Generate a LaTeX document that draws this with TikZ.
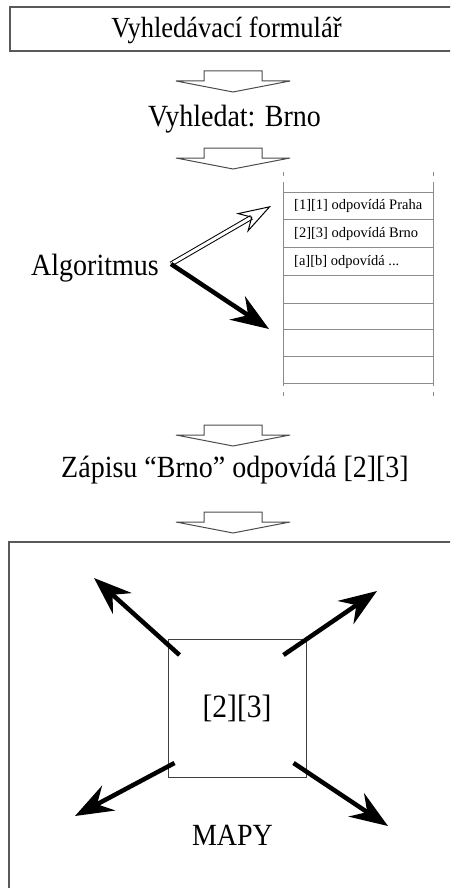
\documentclass[tikz,border=0pt]{standalone}
\usepackage{fontspec}
\setmainfont{Liberation Serif}
\usetikzlibrary{arrows.meta,calc,positioning}
\tikzset{
  boxline/.style={draw=black!65, line width=1.2pt},
  gridline/.style={draw=black!45, line width=1pt},
  blockline/.style={draw=black!70, line width=1pt, fill=white},
  bigtext/.style={font=\fontsize{28}{30}\selectfont, inner sep=0pt, anchor=base},
  smalltext/.style={font=\fontsize{14.5}{16}\selectfont, inner sep=0pt, anchor=base west},
  maparrow/.style={line width=4.5pt, -{Stealth[length=38pt, width=28pt, inset=13pt]}}
}
\newcommand{\tall}[1]{\scalebox{1}[1.1]{#1}}
\newcommand{\flowarrow}[1]{%
  \draw[blockline] ($(#1)+(-29,0)$) -- ++(58,0) -- ++(0,10) -- ++(28,0)
    -- ($(#1)+(0,21)$) -- ($(#1)+(-57,10)$) -- ++(28,0) -- cycle;}

\begin{document}
\begin{tikzpicture}[x=1pt,y=-1pt]
    \useasboundingbox (0,0) rectangle (450,888);
    \clip (0,0) rectangle (450,888);

    % search form
    \draw[boxline] (10,7) rectangle (470,51);
    \node[bigtext, font=\fontsize{26.5}{28}\selectfont] (form) at (226.5,37.5) {\tall{Vyhledávací formulář}};

    % block arrows between the steps
    \coordinate (f1) at (233,71);
    \coordinate (f2) at (233,148);
    \coordinate (f3) at (233,425);
    \coordinate (f4) at (233,512);
    \foreach \f in {f1,f2,f3,f4} {\flowarrow{\f}}

    \node[bigtext] (query) at (234.5,127) {\tall{Vyhledat: Brno}};

    % the lookup table
    \foreach \y in {192,219.5,247,275,303,329.5,356,383}
        \draw[gridline] (283,\y) -- (433,\y);
    \foreach \x in {283,433} {
        \draw[gridline] (\x,182) -- (\x,386);
        \draw[gridline] (\x,172) -- (\x,176);
        \draw[gridline] (\x,392) -- (\x,396);
    }
    \node[smalltext] (r1) at (294,209) {[1][1] odpovídá Praha};
    \node[smalltext] (r2) at (294,237) {[2][3] odpovídá Brno};
    \node[smalltext] (r3) at (294,265) {[a][b] odpovídá ...};

    % algorithm
    \node[bigtext] (alg) at (95,275) {\tall{Algoritmus}};
    \coordinate (fork) at (171,264);
    \coordinate (hit) at (271,206);
    \coordinate (miss) at (269,329);
    \draw[line width=1pt, double=white, double distance=3pt,
        -{Stealth[open, length=34pt, width=22pt, inset=11pt]}] (fork) -- (hit);
    \draw[line width=4.5pt, -{Stealth[length=38pt, width=28pt, inset=13pt]}] (fork) -- (miss);

    \node[bigtext] (result) at (235,477) {\tall{Zápisu “Brno” odpovídá [2][3]}};

    % the maps
    \draw[boxline] (9,542) rectangle (470,900);
    \node[draw=black!75, line width=1pt, minimum size=138pt, inner sep=0pt,
        font=\fontsize{29.5}{31}\selectfont] (cell) at (237,708.5) {\tall{[2][3]}};
    \coordinate (nw) at (94,578);
    \coordinate (ne) at (377,591);
    \coordinate (sw) at (75,816);
    \coordinate (se) at (388,826);
    \draw[maparrow] ($(cell.north west)+(12,16)$) -- (nw);
    \draw[maparrow] ($(cell.north east)+(-23,16)$) -- (ne);
    \draw[maparrow] ($(cell.south west)+(7,-15)$) -- (sw);
    \draw[maparrow] ($(cell.south east)+(-13,-15)$) -- (se);
    \node[bigtext] (maps) at (232.5,845) {\tall{MAPY}};
\end{tikzpicture}
\end{document}
